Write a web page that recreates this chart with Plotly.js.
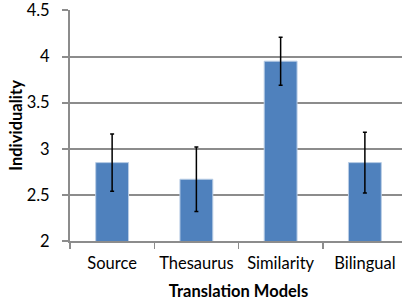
<!DOCTYPE html>
<html>
<head>
<meta charset="utf-8">
<script src="https://cdn.plot.ly/plotly-3.0.1.min.js"></script>
<style>
html,body{margin:0;padding:0;overflow:hidden;background:#fff;width:402px;height:302px;}
#chart{width:407px;height:302px;}
</style>
</head>
<body>
<div id="chart"></div>
<script>
const categories = ["Source", "Thesaurus", "Similarity", "Bilingual"];
const individuality = [2.85, 2.67, 3.95, 2.85];
const errorValues = [0.31, 0.35, 0.26, 0.33];
const yTickValues = [2, 2.5, 3, 3.5, 4, 4.5];
const yTickLabels = ["2", "2.5", "3", "3.5", "4", "4.5"];

const gridColor = "#8c8c8c";
const font = "Lato, 'Open Sans', sans-serif";
const fs = 16.5;

Plotly.newPlot("chart", [{
  type: "bar",
  x: categories,
  y: individuality,
  marker: {color: "#4f81bd", line: {color: "#b9cde5", width: 1}},
  error_y: {type: "data", array: errorValues, visible: true, color: "#000", thickness: 1.5, width: 2}
}], {
  width: 407, height: 302,
  margin: {l: 70, r: 0, t: 10, b: 61},
  paper_bgcolor: "#fff", plot_bgcolor: "#fff",
  showlegend: false,
  bargap: 0.61,
  font: {family: font, size: fs, color: "#000"},
  xaxis: {
    type: "category",
    automargin: true,
    showline: true, linecolor: gridColor, linewidth: 2,
    ticks: "outside", tickson: "boundaries", ticklen: 6, tickcolor: gridColor, tickwidth: 1.5,
    showgrid: false,
    ticklabelstandoff: 6,
    tickfont: {family: font, size: fs},
    title: {text: "<b>Translation Models</b>", font: {family: font, size: fs}, standoff: 14}
  },
  yaxis: {
    range: [2, 4.505],
    automargin: true,
    tickvals: yTickValues, ticktext: yTickLabels,
    showline: true, linecolor: gridColor, linewidth: 2,
    showgrid: true, gridcolor: gridColor, gridwidth: 2,
    zeroline: false,
    ticks: "outside", ticklen: 6, tickcolor: gridColor, tickwidth: 2,
    ticklabelstandoff: 9,
    ticklabeloverflow: "allow",
    tickfont: {family: font, size: fs},
    title: {text: "<b>Individuality</b>", font: {family: font, size: fs}, standoff: 0}
  }
}, {displayModeBar: false, staticPlot: true});
</script>
</body>
</html>
